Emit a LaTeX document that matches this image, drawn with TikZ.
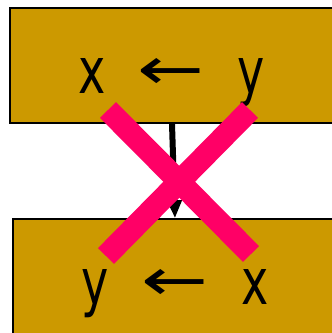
\documentclass[tikz,border=0pt]{standalone}
\usepackage{fontspec}
\setmainfont{DejaVu Sans}
\usetikzlibrary{arrows.meta}
\definecolor{boxgold}{RGB}{204,153,0}
\definecolor{crosspink}{RGB}{255,0,102}
% narrow variable letters and a long left arrow
\newcommand{\varsym}[1]{\scalebox{0.72}[1]{#1}}
\newcommand{\assignarrow}{\scalebox{1.25}[0.92]{←}}
\begin{document}
\begin{tikzpicture}[x=1pt,y=1pt,
  stmt/.style={draw=black, line width=1.5pt, fill=boxgold, inner sep=0pt},
  sym/.style={anchor=base, inner sep=0pt, font=\fontsize{64}{64}\selectfont},
  flow/.style={line width=6pt, -{Triangle[length=18pt,width=14pt]}},
  strike/.style={crosspink, line width=22.5pt, line cap=butt}]
\useasboundingbox (0,0) rectangle (332,333);
\clip (0,0) rectangle (332,333);
% two assignment boxes, running off the right and bottom edges
\node[stmt, minimum width=335pt, minimum height=115pt] (top) at (177.5,267.5) {};
\node[stmt, minimum width=335pt, minimum height=130pt] (bot) at (180.5,49) {};
% top statement: x <- y
\node[sym] (tx) at (92,240) {\varsym{x}};
\node[sym] (tarr) at (171.5,243) {\assignarrow};
\node[sym] (ty) at (251,240) {\varsym{y}};
% bottom statement: y <- x
\node[sym] (by) at (95,29) {\varsym{y}};
\node[sym] (barr) at (175,32) {\assignarrow};
\node[sym] (bx) at (255,29) {\varsym{x}};
% control flow between the statements
\coordinate (from) at ([xshift=-5.5pt]top.south);
\coordinate (to) at ([xshift=-5.5pt]bot.north);
\draw[flow] (from) -- (to);
% strike-through cross
\coordinate (c1) at (108,223);
\coordinate (c2) at (251,79);
\coordinate (c3) at (250,223);
\coordinate (c4) at (106,77);
\draw[strike] (c1) -- (c2);
\draw[strike] (c3) -- (c4);
\end{tikzpicture}
\end{document}
